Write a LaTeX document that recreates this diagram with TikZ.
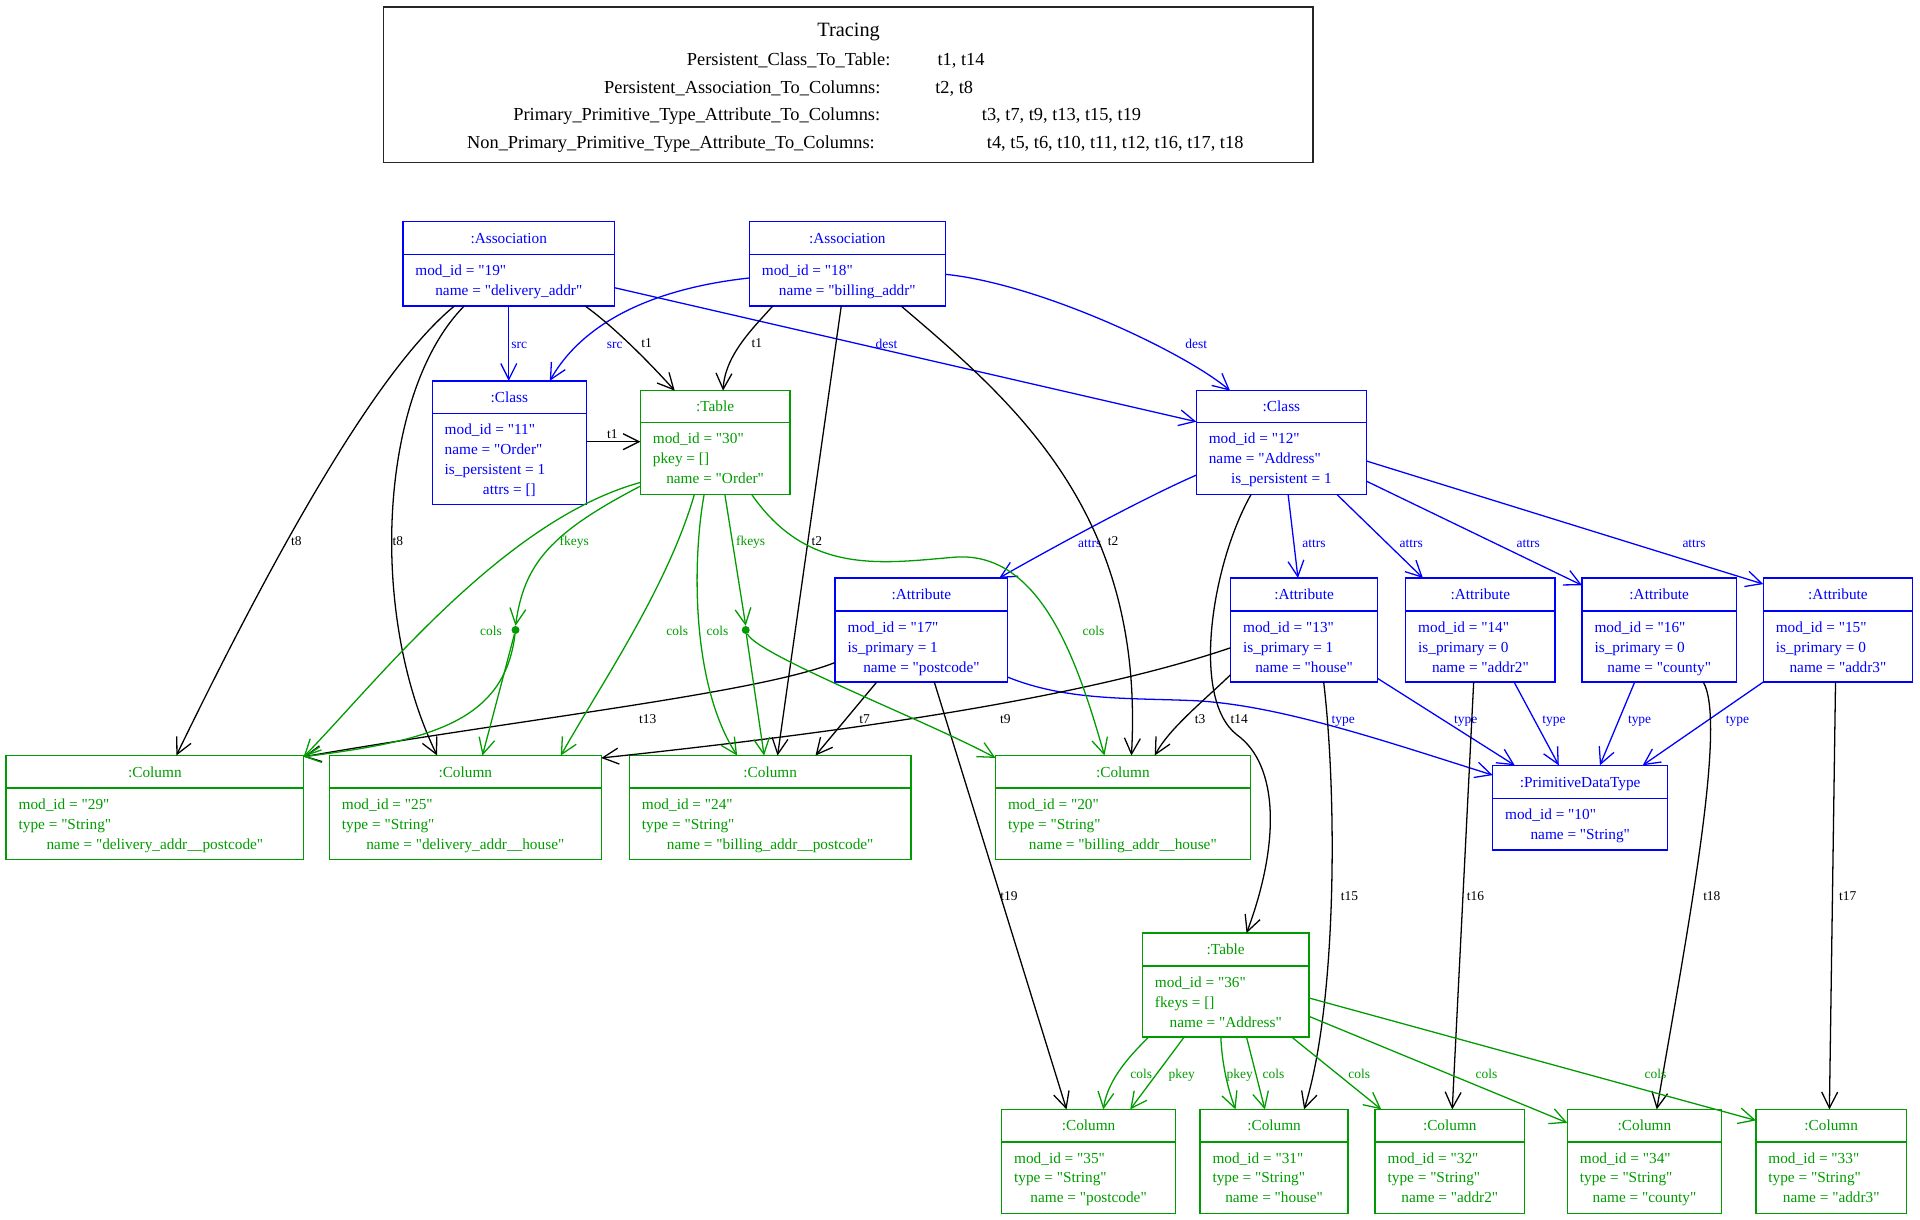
\documentclass[tikz,border=0pt]{standalone}
\usepackage{fontspec}
\setmainfont{Liberation Serif}[Ligatures=TeXOff]
\usetikzlibrary{arrows.meta}
\definecolor{ublue}{RGB}{0,0,255}
\definecolor{ugreen}{RGB}{0,155,0}
\newcommand\bodyf{\fontsize{12.5}{14}\selectfont}
\newcommand\edgef{\fontsize{11}{13}\selectfont}
\newcommand\legf{\fontsize{15}{18}\selectfont}
\newcommand\titf{\fontsize{16.6}{20}\selectfont}
\newcounter{elc}
\newcommand\ubox[7]{%
  \xdef\bxn{#1}\xdef\bxa{#2}\xdef\bxb{#4}\xdef\bxd{#6}%
  \node[boxline, draw, inner sep=0pt, outer sep=0pt, minimum width=#4-#2, minimum height=#5-#3, anchor=north west] (#1) at (#2,#3) {};
  \draw[boxline] (#2,#6) -- (#4,#6);
  \node[font=\bodyf, anchor=base, inner sep=0pt] (#1-title) at ({(#2+#4)/2},{(#3+#6)/2+4.3}) {#7};
}
\newcommand\bl[2]{\node[font=\bodyf, anchor=base west, inner sep=0pt] (\bxn-l#1) at (\bxa+10,\bxd+17.3+16.3*#1-16.3) {#2};}
\newcommand\bc[2]{\node[font=\bodyf, anchor=base, inner sep=0pt] (\bxn-l#1) at ({(\bxa+\bxb)/2},\bxd+17.3+16.3*#1-16.3) {#2};}
\newcommand\elab[4]{\stepcounter{elc}\node[font=\edgef, text=#1, anchor=base, inner sep=0pt] (el\arabic{elc}) at (#2,#3+3.8) {#4};}
\tikzset{
  boxline/.style={line width=1.15pt},
  edgeline/.style={line width=1.05pt, -{Straight Barb[length=13pt,width=13pt]}},
  bedge/.style={edgeline, draw=ublue},
  gedge/.style={edgeline, draw=ugreen},
  kedge/.style={edgeline, draw=black},
  fkdot/.style={circle, fill=ugreen, draw=none, inner sep=0pt, minimum size=6.5pt}
}
\begin{document}
\begin{tikzpicture}[x=1pt,y=-1pt]
\useasboundingbox (0,0) rectangle (1568,996);

% ---------- legend ----------
\node[draw=black!85, line width=1.3pt, inner sep=0pt, minimum width=759, minimum height=127, anchor=north west] (legend) at (312.5,5) {};
\node[font=\titf, anchor=base, inner sep=0pt] (legtitle) at (693,24+5.8) {Tracing};
\node[font=\legf, anchor=base east, inner sep=0pt] (lk1) at (727.4,48+5.2) {Persistent\_Class\_To\_Table:};
\node[font=\legf, anchor=base west, inner sep=0pt] (lv1) at (765.5,48+5.2) {t1, t14};
\node[font=\legf, anchor=base east, inner sep=0pt] (lk2) at (719.2,71+5.2) {Persistent\_Association\_To\_Columns:};
\node[font=\legf, anchor=base west, inner sep=0pt] (lv2) at (763.6,71+5.2) {t2, t8};
\node[font=\legf, anchor=base east, inner sep=0pt] (lk3) at (719,93+5.2) {Primary\_Primitive\_Type\_Attribute\_To\_Columns:};
\node[font=\legf, anchor=base west, inner sep=0pt] (lv3) at (801.7,93+5.2) {t3, t7, t9, t13, t15, t19};
\node[font=\legf, anchor=base east, inner sep=0pt] (lk4) at (714.6,116+5.2) {Non\_Primary\_Primitive\_Type\_Attribute\_To\_Columns:};
\node[font=\legf, anchor=base west, inner sep=0pt] (lv4) at (805.8,116+5.2) {t4, t5, t6, t10, t11, t12, t16, t17, t18};

% ---------- blue boxes ----------
\begin{scope}[ublue]
\ubox{A19}{329}{181}{502}{250}{208}{:Association}
\bl{1}{mod\_id = "19"}\bc{2}{name = "delivery\_addr"}
\ubox{A18}{612}{181}{772}{250}{208}{:Association}
\bl{1}{mod\_id = "18"}\bc{2}{name = "billing\_addr"}
\ubox{C11}{353}{311}{479}{412}{337.5}{:Class}
\bl{1}{mod\_id = "11"}\bl{2}{name = "Order"}\bl{3}{is\_persistent = 1}\bc{4}{attrs = []}
\ubox{C12}{977}{319}{1116}{404}{345}{:Class}
\bl{1}{mod\_id = "12"}\bl{2}{name = "Address"}\bc{3}{is\_persistent = 1}
\ubox{AT17}{682}{472}{823}{557}{499}{:Attribute}
\bl{1}{mod\_id = "17"}\bl{2}{is\_primary = 1}\bc{3}{name = "postcode"}
\ubox{AT13}{1005}{472}{1125}{557}{499}{:Attribute}
\bl{1}{mod\_id = "13"}\bl{2}{is\_primary = 1}\bc{3}{name = "house"}
\ubox{AT14}{1148}{472}{1270}{557}{499}{:Attribute}
\bl{1}{mod\_id = "14"}\bl{2}{is\_primary = 0}\bc{3}{name = "addr2"}
\ubox{AT16}{1292}{472}{1418}{557}{499}{:Attribute}
\bl{1}{mod\_id = "16"}\bl{2}{is\_primary = 0}\bc{3}{name = "county"}
\ubox{AT15}{1440}{472}{1562}{557}{499}{:Attribute}
\bl{1}{mod\_id = "15"}\bl{2}{is\_primary = 0}\bc{3}{name = "addr3"}
\ubox{PDT}{1219}{625}{1362}{694}{652}{:PrimitiveDataType}
\bl{1}{mod\_id = "10"}\bc{2}{name = "String"}
\end{scope}

% ---------- green boxes ----------
\begin{scope}[ugreen]
\ubox{T30}{523}{319}{645}{404}{345}{:Table}
\bl{1}{mod\_id = "30"}\bl{2}{pkey = []}\bc{3}{name = "Order"}
\ubox{CO29}{5}{617}{248}{702}{643.5}{:Column}
\bl{1}{mod\_id = "29"}\bl{2}{type = "String"}\bc{3}{name = "delivery\_addr\_\_postcode"}
\ubox{CO25}{269}{617}{491}{702}{643.5}{:Column}
\bl{1}{mod\_id = "25"}\bl{2}{type = "String"}\bc{3}{name = "delivery\_addr\_\_house"}
\ubox{CO24}{514}{617}{744}{702}{643.5}{:Column}
\bl{1}{mod\_id = "24"}\bl{2}{type = "String"}\bc{3}{name = "billing\_addr\_\_postcode"}
\ubox{CO20}{813}{617}{1021}{702}{643.5}{:Column}
\bl{1}{mod\_id = "20"}\bl{2}{type = "String"}\bc{3}{name = "billing\_addr\_\_house"}
\ubox{T36}{933}{762}{1069}{847}{789}{:Table}
\bl{1}{mod\_id = "36"}\bl{2}{fkeys = []}\bc{3}{name = "Address"}
\ubox{CO35}{818}{906}{960}{991}{932.5}{:Column}
\bl{1}{mod\_id = "35"}\bl{2}{type = "String"}\bc{3}{name = "postcode"}
\ubox{CO31}{980}{906}{1101}{991}{932.5}{:Column}
\bl{1}{mod\_id = "31"}\bl{2}{type = "String"}\bc{3}{name = "house"}
\ubox{CO32}{1123}{906}{1245}{991}{932.5}{:Column}
\bl{1}{mod\_id = "32"}\bl{2}{type = "String"}\bc{3}{name = "addr2"}
\ubox{CO34}{1280}{906}{1406}{991}{932.5}{:Column}
\bl{1}{mod\_id = "34"}\bl{2}{type = "String"}\bc{3}{name = "county"}
\ubox{CO33}{1434}{906}{1557}{991}{932.5}{:Column}
\bl{1}{mod\_id = "33"}\bl{2}{type = "String"}\bc{3}{name = "addr3"}
\end{scope}
\node[fkdot] (D1) at (421,514.5) {};
\node[fkdot] (D2) at (609,514.5) {};

% ---------- blue edges ----------
\draw[bedge] ([shift={(86.5,69)}]A19.north west) -- ([shift={(62.5,0)}]C11.north west);
\elab{ublue}{424}{281}{src}
\draw[bedge] ([shift={(0,46)}]A18.north west) .. controls (530,236) and (475,265) .. ([shift={(96,0)}]C11.north west);
\elab{ublue}{502}{281}{src}
\draw[bedge] ([shift={(173,54)}]A19.north west) -- ([shift={(0,25.4)}]C12.north west);
\elab{ublue}{724}{281}{dest}
\draw[bedge] ([shift={(160,43)}]A18.north west) .. controls (850,232) and (968,288) .. ([shift={(27.5,0)}]C12.north west);
\elab{ublue}{977}{281}{dest}
\draw[bedge] ([shift={(0,69)}]C12.north west) .. controls (931,408) and (851,452) .. ([shift={(134,0)}]AT17.north west);
\elab{ublue}{890}{443}{attrs}
\draw[bedge] ([shift={(75,85)}]C12.north west) -- ([shift={(55,0)}]AT13.north west);
\elab{ublue}{1073}{443}{attrs}
\draw[bedge] ([shift={(115,85)}]C12.north west) -- ([shift={(14,0)}]AT14.north west);
\elab{ublue}{1152.5}{443}{attrs}
\draw[bedge] ([shift={(139,74)}]C12.north west) -- ([shift={(0,6)}]AT16.north west);
\elab{ublue}{1248}{443}{attrs}
\draw[bedge] ([shift={(139,57.5)}]C12.north west) -- ([shift={(0,5)}]AT15.north west);
\elab{ublue}{1383.5}{443}{attrs}
\draw[bedge] ([shift={(141,81)}]AT17.north west) .. controls (870,572) and (920,570) .. (970,572) .. controls (1040,574) and (1130,605) .. ([shift={(0,8)}]PDT.north west);
\elab{ublue}{1097}{587}{type}
\draw[bedge] ([shift={(120,82)}]AT13.north west) -- ([shift={(18,0)}]PDT.north west);
\elab{ublue}{1197}{587}{type}
\draw[bedge] ([shift={(88.5,85)}]AT14.north west) -- ([shift={(54,0)}]PDT.north west);
\elab{ublue}{1269}{587}{type}
\draw[bedge] ([shift={(43,85)}]AT16.north west) -- ([shift={(87.6,0)}]PDT.north west);
\elab{ublue}{1339}{587}{type}
\draw[bedge] ([shift={(0,85)}]AT15.north west) -- ([shift={(122.5,0)}]PDT.north west);
\elab{ublue}{1419}{587}{type}

% ---------- trace edges ----------
\draw[kedge] ([shift={(149,69)}]A19.north west) .. controls (503,268) and (533,299) .. ([shift={(28,0)}]T30.north west);
\elab{black}{528}{280}{t1}
\draw[kedge] ([shift={(19,69)}]A18.north west) .. controls (615,268) and (592,290) .. ([shift={(67.5,0)}]T30.north west);
\elab{black}{618}{280}{t1}
\draw[kedge] ([shift={(126,49.7)}]C11.north west) -- ([shift={(0,41.7)}]T30.north west);
\elab{black}{500}{354}{t1}
\draw[kedge] ([shift={(42,69)}]A19.north west) .. controls (310,300) and (230,440) .. ([shift={(139,0)}]CO29.north west);
\elab{black}{242}{442}{t8}
\draw[kedge] ([shift={(50,69)}]A19.north west) .. controls (310,320) and (300,500) .. ([shift={(88,0)}]CO25.north west);
\elab{black}{325}{442}{t8}
\draw[kedge] ([shift={(75,69)}]A18.north west) -- ([shift={(121,0)}]CO24.north west);
\elab{black}{667}{442}{t2}
\draw[kedge] ([shift={(124,69)}]A18.north west) .. controls (830,330) and (935,420) .. ([shift={(111,0)}]CO20.north west);
\elab{black}{909}{442}{t2}
\draw[kedge] ([shift={(44.6,85)}]C12.north west) .. controls (990,460) and (972,570) .. (1010,600) .. controls (1045,625) and (1045,690) .. ([shift={(85,0)}]T36.north west);
\elab{black}{1012}{587}{t14}
\draw[kedge] ([shift={(0,69)}]AT17.north west) .. controls (620,566) and (420,588) .. ([shift={(243,1)}]CO29.north west);
\elab{black}{529}{587}{t13}
\draw[kedge] ([shift={(34,85)}]AT17.north west) -- ([shift={(152,0)}]CO24.north west);
\elab{black}{706}{587}{t7}
\draw[kedge] ([shift={(81,85)}]AT17.north west) -- ([shift={(53,0)}]CO35.north west);
\elab{black}{824}{732}{t19}
\draw[kedge] ([shift={(0,57)}]AT13.north west) .. controls (870,575) and (650,602) .. ([shift={(222,2)}]CO25.north west);
\elab{black}{821}{587}{t9}
\draw[kedge] ([shift={(0,79)}]AT13.north west) .. controls (980,575) and (955,595) .. ([shift={(130,0)}]CO20.north west);
\elab{black}{980}{587}{t3}
\draw[kedge] ([shift={(76,85)}]AT13.north west) .. controls (1092,650) and (1092,820) .. ([shift={(85,0)}]CO31.north west);
\elab{black}{1102}{732}{t15}
\draw[kedge] ([shift={(55.5,85)}]AT14.north west) -- ([shift={(63,0)}]CO32.north west);
\elab{black}{1205}{732}{t16}
\draw[kedge] ([shift={(99,85)}]AT16.north west) .. controls (1410,590) and (1380,750) .. ([shift={(73,0)}]CO34.north west);
\elab{black}{1398}{732}{t18}
\draw[kedge] ([shift={(59,85)}]AT15.north west) -- ([shift={(60,0)}]CO33.north west);
\elab{black}{1509}{732}{t17}

% ---------- green edges ----------
\draw[gedge] ([shift={(0,75)}]T30.north west) .. controls (410,425) and (305,560) .. ([shift={(243,1)}]CO29.north west);
\draw[gedge] ([shift={(0,78)}]T30.north west) .. controls (450,435) and (428,460) .. (D1.north);
\elab{ugreen}{469}{442}{fkeys}
\draw[gedge] (D1) -- ([shift={(125,0)}]CO25.north west);
\draw[gedge] (D1) .. controls (412,590) and (350,605) .. ([shift={(243,1)}]CO29.north west);
\elab{ugreen}{401}{515}{cols}
\draw[gedge] ([shift={(44,85)}]T30.north west) .. controls (545,480) and (490,560) .. ([shift={(189,0)}]CO25.north west);
\elab{ugreen}{553}{515}{cols}
\draw[gedge] ([shift={(52,85)}]T30.north west) .. controls (565,460) and (565,560) .. ([shift={(88,0)}]CO24.north west);
\elab{ugreen}{586}{515}{cols}
\draw[gedge] ([shift={(69,85)}]T30.north west) -- (D2.north);
\elab{ugreen}{613}{442}{fkeys}
\draw[gedge] (D2) -- ([shift={(110,0)}]CO24.north west);
\draw[gedge] (D2) .. controls (618,535) and (760,590) .. ([shift={(0,2)}]CO20.north west);
\draw[gedge] ([shift={(91,85)}]T30.north west) .. controls (660,470) and (720,460) .. (780,455) .. controls (850,450) and (880,540) .. ([shift={(89,0)}]CO20.north west);
\elab{ugreen}{893}{515}{cols}
\draw[gedge] ([shift={(5,85)}]T36.north west) .. controls (925,860) and (905,880) .. ([shift={(83,0)}]CO35.north west);
\elab{ugreen}{932}{877}{cols}
\draw[gedge] ([shift={(34,85)}]T36.north west) -- ([shift={(105,0)}]CO35.north west);
\elab{ugreen}{965}{877}{pkey}
\draw[gedge] ([shift={(64,85)}]T36.north west) .. controls (998,870) and (1003,890) .. ([shift={(29,0)}]CO31.north west);
\elab{ugreen}{1012.5}{877}{pkey}
\draw[gedge] ([shift={(85,85)}]T36.north west) -- ([shift={(53,0)}]CO31.north west);
\elab{ugreen}{1040}{877}{cols}
\draw[gedge] ([shift={(122,85)}]T36.north west) -- ([shift={(5,0)}]CO32.north west);
\elab{ugreen}{1110}{877}{cols}
\draw[gedge] ([shift={(136,68)}]T36.north west) -- ([shift={(0,11)}]CO34.north west);
\elab{ugreen}{1214}{877}{cols}
\draw[gedge] ([shift={(136,53)}]T36.north west) -- ([shift={(0,9)}]CO33.north west);
\elab{ugreen}{1352}{877}{cols}
\end{tikzpicture}
\end{document}
